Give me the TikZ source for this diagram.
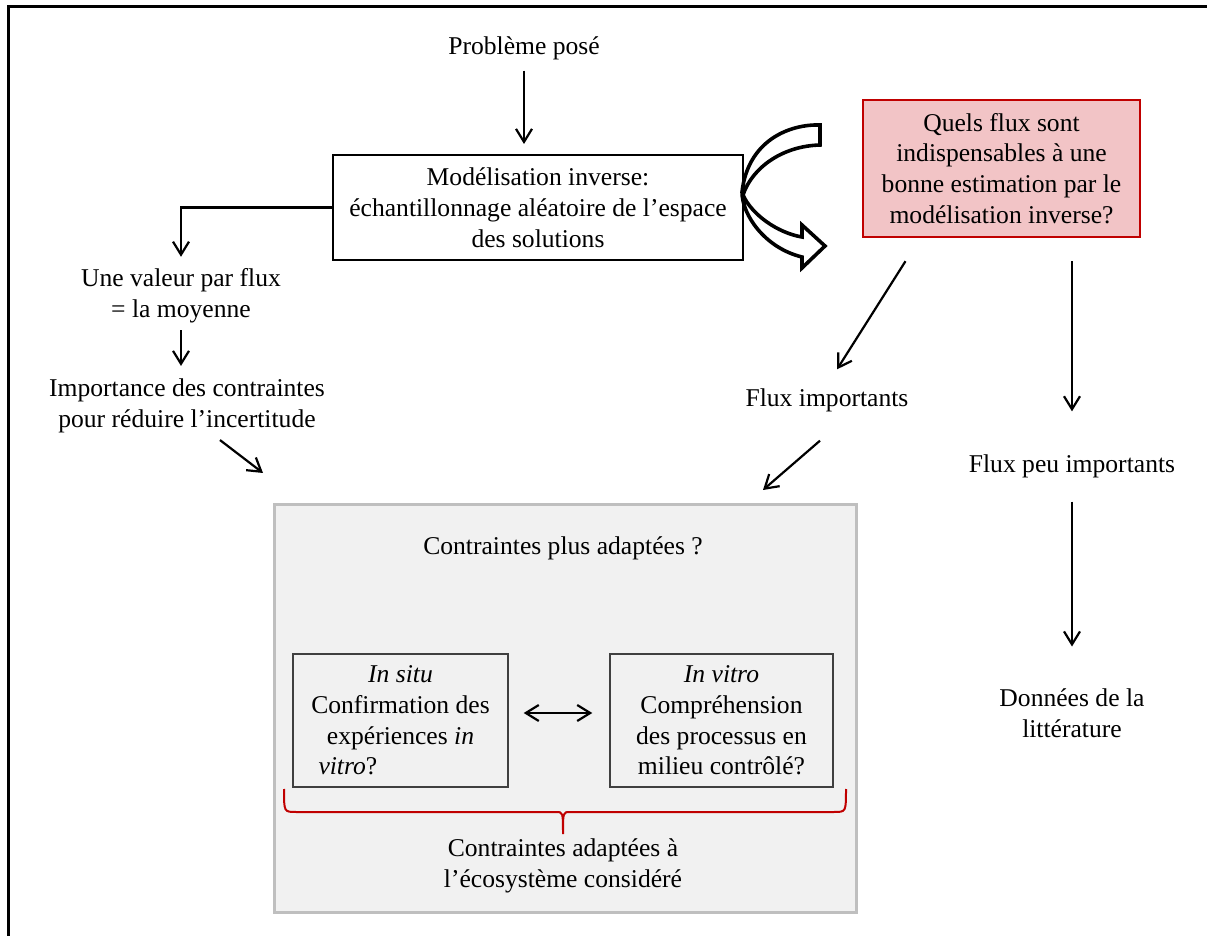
\documentclass[tikz,border=0pt]{standalone}
\usepackage{fontspec}
\setmainfont{Liberation Serif}
\usetikzlibrary{arrows.meta,positioning}
\definecolor{qfill}{HTML}{F2C4C6}
\definecolor{qdraw}{HTML}{C00000}
\definecolor{cfill}{HTML}{F1F1F1}
\definecolor{cdraw}{HTML}{BFBFBF}
\begin{document}
\begin{tikzpicture}[x=0.5pt,y=-0.5pt, every node/.style={font=\fontsize{12.8}{15.4}\selectfont,align=center},
  box/.style={draw,line width=1pt,minimum width=205pt,minimum height=52.5pt},
  qbox/.style={draw=qdraw,fill=qfill,line width=1.2pt,minimum width=138.5pt,minimum height=68.5pt},
  cbox/.style={draw=cdraw,fill=cfill,line width=1.5pt,minimum width=291pt,minimum height=203.5pt},
  ibox/.style={draw=black!75,line width=0.7pt,minimum height=66.5pt},
  arr/.style={-{Straight Barb[length=6.5pt,width=8pt]},line width=1.1pt}]
\useasboundingbox (0,0) rectangle (1207,936);
\draw[line width=1.5pt] (1207,7) -- (8,7) -- (8,936);
% top part
\node (prob) at (524,48) {Problème posé};
\node[box] (inv) at (538,207.5) {Modélisation inverse:\\échantillonnage aléatoire de l’espace\\des solutions};
\node[qbox] (q) at (1001.5,168.5) {Quels flux sont\\indispensables à une\\bonne estimation par le\\modélisation inverse?};
\draw[arr,shorten <=2pt,shorten >=5pt] (prob) -- (prob |- inv.north);
\draw[line width=1.8pt,fill=white] (820,125) .. controls (790,124) and (748,140) .. (742,192)
  .. controls (742,215) and (765,248) .. (802,257) -- (802,268) -- (825,246) -- (802,225) -- (802,237)
  .. controls (778,233) and (752,215) .. (743,195) .. controls (752,168) and (782,146) .. (820,145) -- cycle;
% left branch
\node (val) at (181,296) {Une valeur par flux\\= la moyenne};
\node (imp) at (187,406) {Importance des contraintes\\pour réduire l’incertitude};
\draw[arr,shorten >=2.5pt] (inv.west) -| (val.north);
\draw[arr,shorten >=3pt] (val) -- (val |- imp.north);
% right branches
\node (fimp) at (827,400) {Flux importants};
\node (fpeu) at (1072,466) {Flux peu importants};
\node (lit) at (1072,713) {Données de la\\littérature};
\draw[arr] ([xshift=-48pt,yshift=-11.5pt]q.south) -- ([xshift=5pt,yshift=6pt]fimp.north);
\draw[arr,shorten <=11.5pt,shorten >=18pt] (q.south -| fpeu) -- (fpeu.north);
\draw[arr,shorten <=8.5pt,shorten >=17.5pt] (fpeu) -- (lit);
% constraints box
\node[cbox] (cbox) at (565,708.5) {};
\node (ctitle) at (563,548) {Contraintes plus adaptées ?};
\node[ibox,minimum width=107.5pt] (insitu) at (400.5,720.5) {\textit{In situ}\\Confirmation des\\expériences \textit{in}\\\makebox[82pt][l]{\textit{vitro}?}};
\node[ibox,minimum width=111.5pt] (invitro) at (721.5,720.5) {\textit{In vitro}\\Compréhension\\des processus en\\milieu contrôlé?};
\draw[{Straight Barb[length=6.5pt,width=8pt]}-{Straight Barb[length=6.5pt,width=8pt]},line width=1.1pt,shorten <=7.5pt,shorten >=8.5pt]
  ([yshift=3.75pt]insitu.east) -- ([yshift=3.75pt]invitro.west);
\coordinate (bl) at (284,789);
\coordinate (br) at (846,789);
\draw[qdraw,line width=1pt] (bl) .. controls (284,812) .. (296,812) -- (556,812) .. controls (563,812) .. (563,834)
  .. controls (563,812) .. (570,812) -- (834,812) .. controls (846,812) .. (br);
\node (cadapt) at (563,866) {Contraintes adaptées à\\l’écosystème considéré};
\coordinate (impend) at (263,473);
\coordinate (fimpend) at (763,490);
\draw[arr] ([xshift=16.5pt]imp.south) -- (impend);
\draw[arr] ([xshift=-3.5pt,yshift=-11pt]fimp.south) -- (fimpend);
\end{tikzpicture}
\end{document}
